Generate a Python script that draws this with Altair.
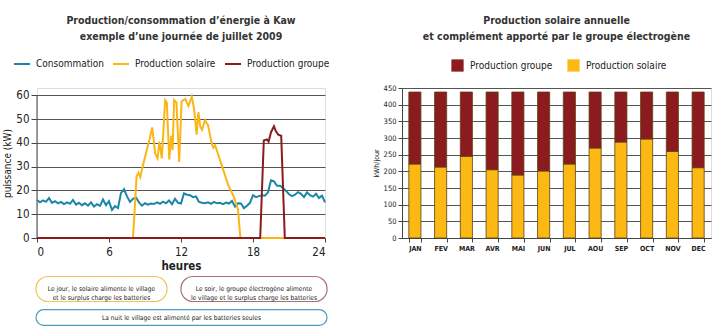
import altair as alt
import pandas as pd

FONT = "'DejaVu Sans Condensed', 'Liberation Sans', sans-serif"
BLUE = "#1a87a8"
YEL = "#fbb615"
RED = "#8b1c1c"
BAR_RED = "#8c1b1f"
BAR_YEL = "#fdb913"
GRID = "#555555"
TXT = "#222222"

# ---------------- left chart data (hours, kW) ----------------
conso_h = [i * 0.25 for i in range(97)]
conso_kw = [16.0, 15.0, 15.8, 15.2, 16.8, 14.8, 15.5, 14.6, 15.2, 14.3, 15.0, 14.4,
            16.0, 14.0, 14.8, 13.8, 14.6, 13.6, 15.0, 13.2, 14.2, 13.5, 16.2, 13.8,
            15.5, 11.8, 13.4, 12.6, 19.0, 20.5, 17.5, 15.2, 16.5, 17.0, 15.0, 13.6,
            14.6, 14.0, 14.5, 14.3, 15.0, 14.4, 15.3, 14.6, 15.8, 14.2, 16.5, 14.8,
            14.5, 18.8, 18.2, 18.0, 17.2, 17.5, 15.2, 14.8, 14.6, 15.0, 14.4, 15.2,
            14.6, 14.8, 14.2, 14.9, 14.5, 15.6, 13.2, 14.6, 14.5, 12.5, 13.6, 14.8,
            18.0, 17.2, 17.6, 18.0, 17.8, 19.2, 24.3, 23.8, 22.0, 22.0, 21.0, 19.8,
            18.4, 17.6, 18.2, 19.3, 18.6, 17.2, 19.2, 18.0, 17.4, 18.6, 16.8, 17.8,
            15.0]

solar_h = [0, 8.0, 8.3, 8.45, 8.6, 8.8, 9.1, 9.4, 9.6, 9.85, 10.05, 10.2, 10.4,
           10.68, 10.82, 11.02, 11.18, 11.3, 11.43, 11.62, 11.85, 12.05, 12.35,
           12.62, 12.9, 13.1, 13.3, 13.45, 13.6, 13.75, 14.0, 14.25, 14.55, 14.7,
           14.85, 15.1, 15.5, 15.95, 16.35, 16.75, 16.95, 24]
solar_kw = [0, 0, 26, 27.5, 25.5, 30, 36, 42, 46.5, 35.5, 33.5, 40.5, 33.5,
            58, 57, 33, 43, 37, 58, 57, 32, 57.5, 58.5,
            55.5, 59.5, 54, 43.5, 53, 47, 45.5, 49.5, 47.5, 40, 38,
            39, 35, 29, 22, 18, 12, 0, 0]

groupe_h = [0, 18.6, 18.9, 19.15, 19.3, 19.5, 19.75, 19.9, 20.1, 20.35, 20.65, 24]
groupe_kw = [0, 0, 41, 41.5, 40.5, 44.5, 47, 45, 43.5, 43, 0, 0]

SERIES = ["Consommation", "Production solaire", "Production groupe"]

# ---------------- right chart data ----------------
months = ["JAN", "FEV", "MAR", "AVR", "MAI", "JUN", "JUL", "AOU", "SEP", "OCT", "NOV", "DEC"]
prod_solaire = [222, 213, 245, 205, 189, 201, 222, 270, 288, 297, 260, 211]
prod_groupe = [216, 225, 193, 233, 249, 237, 216, 168, 150, 141, 178, 227]

# ---------------- build tables ----------------
rows = []
for name, hs, vs in [(SERIES[0], conso_h, conso_kw), (SERIES[1], solar_h, solar_kw),
                     (SERIES[2], groupe_h, groupe_kw)]:
    for i, (h, v) in enumerate(zip(hs, vs)):
        rows.append({"serie": name, "h": h, "kw": v, "i": i})
df_lines = pd.DataFrame(rows)

brows = []
for m, s, g in zip(months, prod_solaire, prod_groupe):
    brows.append({"mois": m, "serie": "Production solaire", "val": s, "o": 0})
    brows.append({"mois": m, "serie": "Production groupe", "val": g, "o": 1})
df_bars = pd.DataFrame(brows)

# ---------------- left chart ----------------
LW, LH = 288, 150
Y_TOP = 63.1  # top of plot area above the 60 gridline

color_left = alt.Color(
    "serie:N",
    scale=alt.Scale(domain=SERIES, range=[BLUE, YEL, RED]),
    legend=alt.Legend(title=None, orient="none", legendX=-24, legendY=-33,
                      direction="horizontal", symbolType="stroke", symbolSize=256,
                      symbolStrokeWidth=2, labelFontSize=10, labelFont=FONT,
                      labelColor=TXT, columnPadding=5, labelOffset=5,
                      gridAlign="none"),
)

xl = alt.X("h:Q", scale=alt.Scale(domain=[0, 24], nice=False),
           axis=alt.Axis(values=[0, 6, 12, 18, 24], title="heures", grid=False,
                         labelFontSize=11.5, labelFont=FONT, labelColor=TXT,
                         titleFontSize=11.5, titleFont=FONT, titleColor=TXT,
                         titleFontWeight="bold", tickSize=4, tickColor="#444",
                         domainColor="#444", labelPadding=4, titlePadding=3))
yl = alt.Y("kw:Q", scale=alt.Scale(domain=[0, Y_TOP], nice=False),
           axis=alt.Axis(values=[0, 10, 20, 30, 40, 50, 60], title="puissance (kW)",
                         grid=True, gridColor=GRID, gridWidth=1.2, domain=False,
                         labelFontSize=11.5, labelFont=FONT, labelColor=TXT,
                         titleFontSize=10, titleFont=FONT, titleColor=TXT,
                         titleFontWeight="normal", tickSize=6, tickColor="#444",
                         labelPadding=2, titlePadding=3))

base = alt.Chart(df_lines)
line_layers = []
for s in SERIES:
    line_layers.append(
        base.transform_filter(alt.datum.serie == s)
        .mark_line(strokeWidth=2)
        .encode(x=xl, y=yl, color=color_left, order="i:Q")
    )

# vertical axis line from 0 to 60 only
axis_line = alt.Chart(alt.Data(values=[{"a": 0}])).mark_rule(color="#444", strokeWidth=1).encode(
    x=alt.value(0), y=alt.value(LH - 60 * LH / Y_TOP), y2=alt.value(LH))


def box(x1, x2, y1, y2, stroke, text, ty):
    d = alt.Data(values=[{"t": text}])
    r = alt.Chart(d).mark_rect(cornerRadius=12, fill="white", stroke=stroke,
                               strokeWidth=1.2).encode(
        x=alt.value(x1), x2=alt.value(x2), y=alt.value(y1), y2=alt.value(y2))
    t = alt.Chart(d).mark_text(lineBreak="\n", fontSize=6.6, font=FONT, color=TXT,
                               align="center", baseline="middle", lineHeight=9).encode(
        x=alt.value((x1 + x2) / 2), y=alt.value(ty), text="t:N")
    return [r, t]


ann = []
ann += box(-1, 130, 188.5, 213.5, "#f1c35e",
           "Le jour, le solaire alimente le village\net le surplus charge les batteries", 200.8)
ann += box(144, 290, 188.5, 213.5, "#a97070",
           "Le soir, le groupe électrogène alimente\nle village et le surplus charge les batteries", 200.8)
ann += box(-1, 290, 221.7, 237.4, "#4a9fb8",
           "La nuit le village est alimenté par les batteries seules", 229.6)

left = alt.layer(axis_line, *line_layers, *ann).properties(
    width=LW, height=LH,
    title=alt.TitleParams(["Production/consommation d’énergie à Kaw",
                           "exemple d’une journée de juillet 2009"],
                          fontSize=10.5, font=FONT, fontWeight="bold", color="#333",
                          lineHeight=16, offset=13, anchor="middle"),
)

# ---------------- right chart ----------------
RW, RH = 309, 150
right = alt.Chart(df_bars).mark_bar(stroke="#5a4212", strokeWidth=0.8).encode(
    x=alt.X("mois:N", sort=months,
            scale=alt.Scale(paddingInner=0.53, paddingOuter=0.265),
            axis=alt.Axis(title=None, labelAngle=0, labelFontSize=7, labelFont=FONT,
                          labelFontWeight="bold", labelColor=TXT, tickBand="extent",
                          tickSize=4, tickColor="#444", domainColor="#444",
                          labelPadding=2)),
    y=alt.Y("val:Q", stack="zero", scale=alt.Scale(domain=[0, 450], nice=False),
            axis=alt.Axis(values=list(range(0, 451, 50)), title="kWh/jour",
                          grid=True, gridColor=GRID, gridWidth=1.2,
                          labelFontSize=7.5, labelFont=FONT, labelColor=TXT,
                          titleFontSize=7, titleFont=FONT, titleColor=TXT,
                          titleFontWeight="normal", tickSize=4, tickColor="#444",
                          domainColor="#444", labelPadding=2, titlePadding=4)),
    color=alt.Color("serie:N",
                    scale=alt.Scale(domain=["Production groupe", "Production solaire"],
                                    range=[BAR_RED, BAR_YEL]),
                    legend=alt.Legend(title=None, orient="none", legendX=49, legendY=-29,
                                      direction="horizontal", symbolType="square",
                                      symbolSize=150, symbolStrokeWidth=0,
                                      labelFontSize=10, labelFont=FONT, labelColor=TXT,
                                      columnPadding=14, labelOffset=6, gridAlign="none")),
    order=alt.Order("o:Q"),
).properties(
    width=RW, height=RH,
    title=alt.TitleParams(["Production solaire annuelle",
                           "et complément apporté par le groupe électrogène"],
                          fontSize=10.5, font=FONT, fontWeight="bold", color="#333",
                          lineHeight=16, offset=17, anchor="middle"),
)

chart = alt.hconcat(left, right, spacing=77, bounds="flush").resolve_scale(
    color="independent").properties(
    padding={"left": 2, "top": 15, "right": 2, "bottom": 0}
).configure_view(strokeWidth=0).configure(background="white")

chart.save("out.html", embed_options={"renderer": "svg", "actions": False})
